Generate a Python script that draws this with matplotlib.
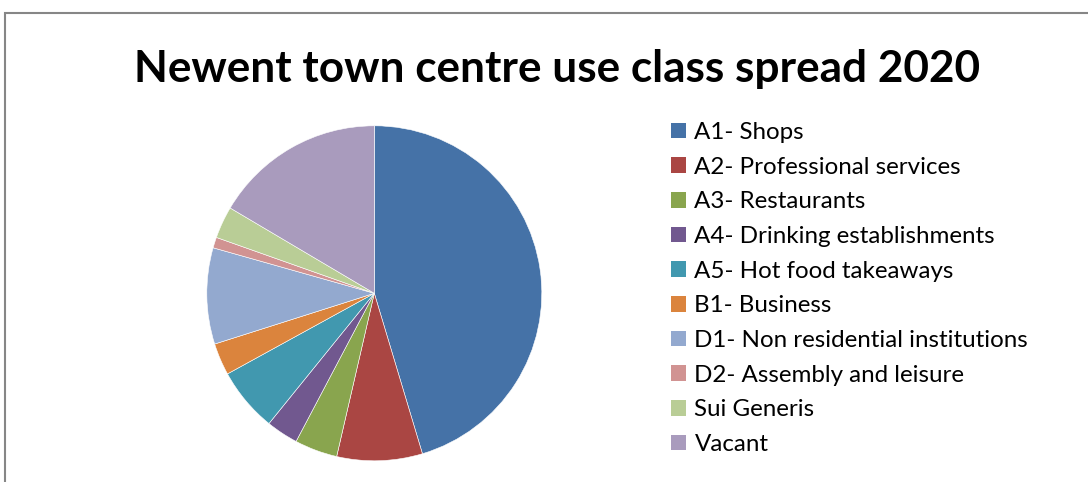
import matplotlib
matplotlib.use("Agg")
import matplotlib.pyplot as plt
from matplotlib.patches import Patch, Rectangle

# use classes and number of units
categories = [
    "A1- Shops",
    "A2- Professional services",
    "A3- Restaurants",
    "A4- Drinking establishments",
    "A5- Hot food takeaways",
    "B1- Business",
    "D1- Non residential institutions",
    "D2- Assembly and leisure",
    "Sui Generis",
    "Vacant",
]
units = [44, 8, 4, 3, 6, 3, 9, 1, 3, 16]
colors = ["#4572A7", "#AA4643", "#89A54E", "#71588F", "#4198AF",
          "#DB843D", "#93A9CF", "#D19392", "#B9CD96", "#A99BBD"]

plt.rcParams['font.family'] = ['Lato', 'DejaVu Sans']

W, H = 1088, 482
fig = plt.figure(figsize=(W / 100, H / 100), dpi=100)

# chart area border (cut off at right and bottom)
fig.patches.append(Rectangle((5 / W, -0.1), 1.2, (H - 13) / H + 0.1,
                             transform=fig.transFigure, fill=False,
                             edgecolor="#868686", linewidth=1.5))

cx, cy, r = 374.3, 293.3, 167.5
ax = fig.add_axes([(cx - r) / W, (H - cy - r) / H, 2 * r / W, 2 * r / H])
ax.pie(units, colors=colors, startangle=90, counterclock=False,
       wedgeprops=dict(edgecolor="white", linewidth=0.4))
ax.set_xlim(-1, 1)
ax.set_ylim(-1, 1)
ax.set_aspect("auto")
ax.axis("off")

fig.text(557 / W, 1 - 69 / H, "Newent town centre use class spread 2020",
         ha="center", va="center", fontsize=31.8, fontweight="bold")

handles = [Patch(facecolor=c, edgecolor="none") for c in colors]
fig.legend(handles, categories, loc="upper left",
           bbox_to_anchor=(671 / W, 1 - 122 / H), frameon=False,
           fontsize=17.4, handlelength=0.62, handleheight=0.62,
           handletextpad=0.35, labelspacing=0.565, borderpad=0, borderaxespad=0)

fig.savefig("out.png", dpi=100)
